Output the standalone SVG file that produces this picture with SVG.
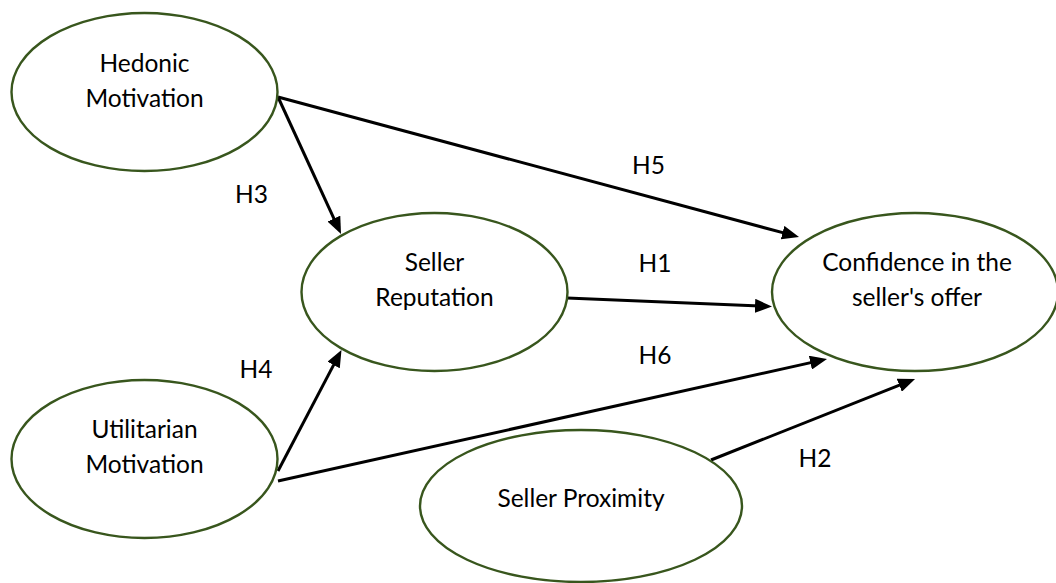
<svg xmlns="http://www.w3.org/2000/svg" width="1056" height="583" viewBox="0 0 1056 583">
<style>
.node ellipse{fill:#fff;stroke:#38561d;stroke-width:2.4}
text{font-family:Lato,"Open Sans","Liberation Sans",sans-serif;font-size:24.5px;fill:#000;text-anchor:middle}
.conn line{stroke:#000;stroke-width:3}
</style>
<defs>
<marker id="ah" viewBox="0 0 17 14" refX="5" refY="7" markerWidth="17" markerHeight="14" markerUnits="userSpaceOnUse" orient="auto">
<path d="M0,0 L17,7 L0,14 z" fill="#000"/>
</marker>
</defs>
<rect width="1056" height="583" fill="#fff"/>
<g id="connectors" class="conn">
<line x1="278" y1="97" x2="336" y2="223.1" marker-end="url(#ah)"/>
<line x1="278" y1="97" x2="787.4" y2="233.9" marker-end="url(#ah)"/>
<line x1="567" y1="298" x2="760" y2="306" marker-end="url(#ah)"/>
<line x1="278" y1="471" x2="335.9" y2="360.6" marker-end="url(#ah)"/>
<line x1="278" y1="481" x2="815.3" y2="361.6" marker-end="url(#ah)"/>
<line x1="711" y1="460" x2="903.9" y2="383.4" marker-end="url(#ah)"/>
</g>
<g id="labels">
<text x="251.5" y="203">H3</text>
<text x="648.5" y="174">H5</text>
<text x="655" y="272">H1</text>
<text x="655" y="364">H6</text>
<text x="256" y="378">H4</text>
<text x="815" y="467">H2</text>
</g>
<g id="hedonic" class="node">
<ellipse cx="144.5" cy="92" rx="133" ry="79"/>
<text x="144.5" y="72">Hedonic</text>
<text x="144.5" y="107">Motivation</text>
</g>
<g id="utilitarian" class="node">
<ellipse cx="144.5" cy="459" rx="133" ry="79"/>
<text x="144.5" y="438">Utilitarian</text>
<text x="144.5" y="473">Motivation</text>
</g>
<g id="reputation" class="node">
<ellipse cx="434.5" cy="292" rx="133" ry="79"/>
<text x="434.5" y="271">Seller</text>
<text x="434.5" y="306">Reputation</text>
</g>
<g id="confidence" class="node">
<ellipse cx="915" cy="292" rx="143" ry="79"/>
<text x="917" y="271">Confidence in the</text>
<text x="917" y="306">seller's offer</text>
</g>
<g id="proximity" class="node">
<ellipse cx="581" cy="506" rx="161" ry="76"/>
<text x="581" y="507">Seller Proximity</text>
</g>
</svg>
